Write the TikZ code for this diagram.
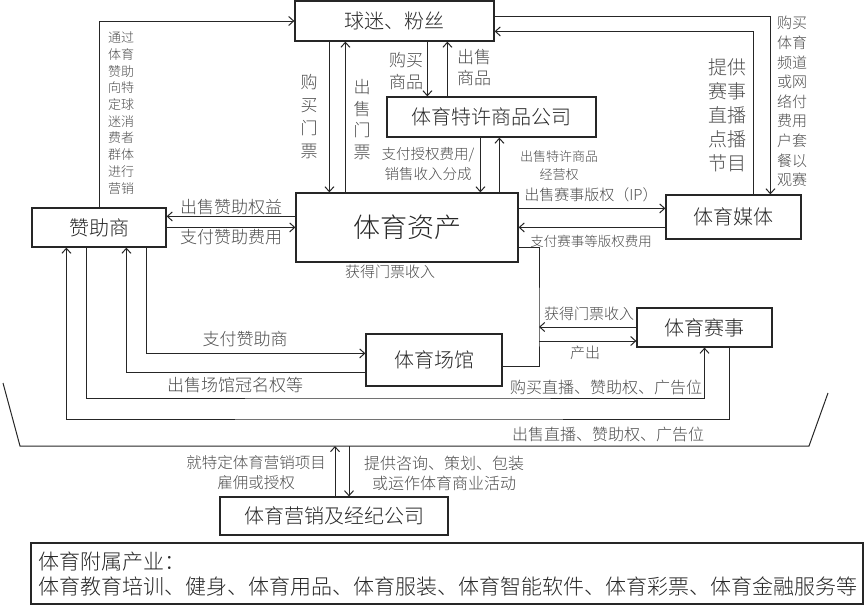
\documentclass[tikz,border=0pt]{standalone}
\usepackage{fontspec}
\setmainfont{Noto Sans CJK SC}[UprightFont=* Light]
\usetikzlibrary{arrows.meta}
\newcommand\fs[2]{\fontsize{#1}{#2}\selectfont}

\begin{document}
\begin{tikzpicture}[x=1pt,y=-1pt,
		box/.style={draw=black!85, line width=1.2pt, inner sep=0pt, text=black!85},
		lbl/.style={text=black!70, inner sep=0pt, align=center},
		flow/.style={draw=black!85, line width=1pt},
		>={Straight Barb[length=5pt,width=9pt]}]
		\useasboundingbox (0,0) rectangle (865,605);

		\node[box, minimum width=199, minimum height=40, font=\fs{20}{24}] (fans) at (394.5,21) {球迷、粉丝};
		\node[box, minimum width=209, minimum height=40, font=\fs{20}{24}] (lic) at (491.5,117) {体育特许商品公司};
		\node[box, minimum width=222, minimum height=69, font=\fs{27}{30}] (assets) at (407,227.5) {体育资产};
		\node[box, minimum width=134, minimum height=39, font=\fs{20}{24}] (spons) at (99,227.5) {赞助商};
		\node[box, minimum width=135, minimum height=44, font=\fs{20}{24}] (media) at (733.5,217) {体育媒体};
		\node[box, minimum width=136, minimum height=52, font=\fs{20}{24}] (venue) at (434,360) {体育场馆};
		\node[box, minimum width=135, minimum height=39, font=\fs{20}{24}] (event) at (704.5,327.5) {体育赛事};
		\node[box, minimum width=228, minimum height=38, font=\fs{20}{24}] (agency) at (334,516) {体育营销及经纪公司};
		\node[box, minimum width=832, minimum height=61] (extra) at (447,573.5) {};
		\node[anchor=west, inner sep=0pt, align=left, text=black!85, font=\fs{21}{25}] (extratxt) at (38,574.5)
			{体育附属产业：\\体育教育培训、健身、体育用品、体育服装、体育智能软件、体育彩票、体育金融服务等};

		\draw[flow,->] (spons.north) |- (fans.west);
		\draw[flow,->] ([xshift=35]fans.south west) -- ([xshift=34]assets.north west);
		\draw[flow,->] ([xshift=50]assets.north west) -- ([xshift=51]fans.south west);
		\draw[flow,->] ([xshift=133]fans.south west) -- ([xshift=41]lic.north west);
		\draw[flow,->] ([xshift=61]lic.north west) -- ([xshift=153]fans.south west);
		\draw[flow,->] ([xshift=94]lic.south west) -- ([xshift=185]assets.north west);
		\draw[flow,->] ([xshift=204]assets.north west) -- ([xshift=113]lic.south west);
		\draw[flow,->] ([yshift=-24]assets.north west) -- ([yshift=-9]spons.north east);
		\draw[flow,->] ([yshift=-20]spons.north east) -- ([yshift=-35]assets.north west);
		\draw[flow,->] ([yshift=-16]assets.north east) -- ([yshift=-14]media.north west);
		\draw[flow,->] ([yshift=-33]media.north west) -- ([yshift=-35]assets.north east);
		\draw[flow,->] ([xshift=88]media.north west) |- ([yshift=-31]fans.north east);
		\draw[flow,->] ([yshift=-16]fans.north east) -| ([xshift=105]media.north west);

		\coordinate (tk) at (539,327);
		\coordinate (yield) at (539,341);
		\draw[flow] ([yshift=-33]venue.north east) -| (tk) |- ([yshift=-55]assets.north east);
		\draw[flow,->] (tk -| event.west) -- (tk);
		\draw[flow,->] (yield) -- (yield -| event.west);

		\coordinate (buyrow) at (400,398);
		\coordinate (sellrow) at (400,419);
		\draw[flow,->] ([xshift=115]spons.south west) |- ([yshift=-20]venue.north west);
		\draw[flow,->] ([yshift=-39]venue.north west) -| ([xshift=95]spons.south west);
		\draw[flow,->] ([xshift=55]spons.south west) |- (buyrow) -| (event.south);
		\draw[flow,->] ([xshift=93]event.south west) |- (sellrow) -| ([xshift=35]spons.south west);

		\coordinate (bl) at (20,446);
		\coordinate (br) at (809,446);
		\draw[flow] (3,383) -- (bl) -- (br) -- (828,393);
		\draw[flow,->] ([xshift=1]agency.north) -- ([xshift=1]agency.north |- bl);
		\draw[flow,->] ([xshift=15]agency.north |- bl) -- ([xshift=15]agency.north);

		\node[lbl, font=\fs{13}{16.7}] (viaspons) at (121,113) {通过\\体育\\赞助\\向特\\定球\\迷消\\费者\\群体\\进行\\营销};
		\node[lbl, font=\fs{17}{23}] (buytk) at (309,117) {购\\买\\门\\票};
		\node[lbl, font=\fs{17}{21.7}] (selltk) at (362,119.5) {出\\售\\门\\票};
		\node[lbl, font=\fs{17}{22}] (buygoods) at (406,71) {购买\\商品};
		\node[lbl, font=\fs{17}{21}] (sellgoods) at (474,68) {出售\\商品};
		\node[lbl, font=\fs{14.5}{20}] (fee) at (428,164) {支付授权费用/\\销售收入分成};
		\node[lbl, font=\fs{13}{18}] (licright) at (559,166) {出售特许商品\\经营权};
		\node[lbl, font=\fs{19}{24}] (prog) at (727,115) {提供\\赛事\\直播\\点播\\节目};
		\node[lbl, font=\fs{15}{19.6}] (subs) at (792,101.5) {购买\\体育\\频道\\或网\\络付\\费用\\户套\\餐以\\观赛};
		\node[lbl, font=\fs{17}{20}] (sellsp) at (231,207) {出售赞助权益};
		\node[lbl, font=\fs{17}{20}] (paysp) at (231,237) {支付赞助费用};
		\node[lbl, font=\fs{15}{18}] (ip) at (591,195) {出售赛事版权（IP）};
		\node[lbl, font=\fs{13.5}{16}] (payip) at (591,241) {支付赛事等版权费用};
		\node[lbl, font=\fs{15}{18}] (tkin) at (390,272) {获得门票收入};
		\node[lbl, font=\fs{15}{18}] (tkin2) at (589,314) {获得门票收入};
		\node[lbl, font=\fs{15}{18}] (yieldtxt) at (585,353) {产出};
		\node[lbl, font=\fs{17}{20}] (payvenue) at (245,339) {支付赞助商};
		\node[lbl, font=\fs{17}{20}] (naming) at (235,385) {出售场馆冠名权等};
		\node[lbl, font=\fs{16}{19}] (buyad) at (606,387) {购买直播、赞助权、广告位};
		\node[lbl, font=\fs{16}{19}] (sellad) at (608,434) {出售直播、赞助权、广告位};
		\node[lbl, font=\fs{15.5}{20}] (hire) at (256,473) {就特定体育营销项目\\雇佣或授权};
		\node[lbl, font=\fs{16}{20}] (serve) at (444,473) {提供咨询、策划、包装\\或运作体育商业活动};
	\end{tikzpicture}
\end{document}
